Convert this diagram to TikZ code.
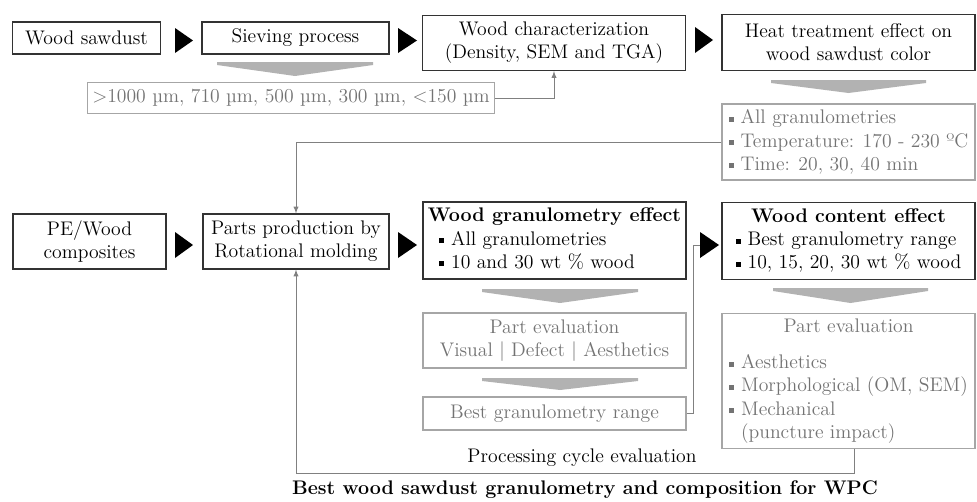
\documentclass[tikz,border=0pt]{standalone}
\usetikzlibrary{arrows}
\newcommand{\sqb}{\rule[1.5pt]{3.5pt}{3.5pt}\hspace{5pt}}

\begin{document}
\begin{tikzpicture}[x=0.025cm,y=-0.025cm,>=latex,font=\fontsize{14}{16.5}\selectfont]
  \tikzstyle{stepbox}=[rectangle,draw=black!80,line width=0.8pt,inner sep=2pt,align=center]
  \tikzstyle{greybox}=[rectangle,draw=black!35,line width=0.8pt,text=black!55,inner sep=2pt,align=center]
  \tikzstyle{gline}=[draw=black!50,line width=0.7pt]
  \tikzstyle{chev}=[fill=black!30]
  \tikzstyle{tri}=[fill=black]

  \useasboundingbox (0,0) rectangle (977,501);

  % first row
  \node [stepbox,minimum width=3.7cm,minimum height=0.8cm] (wsaw) at (86.5,38) {Wood sawdust};
  \node [stepbox,minimum width=4.675cm,minimum height=0.8cm] (sieve) at (295.5,38) {Sieving process};
  \node [stepbox,minimum width=6.575cm,minimum height=1.375cm] (wchar) at (554,43) {Wood characterization\\(Density, SEM and TGA)};
  \node [stepbox,minimum width=6.325cm,minimum height=1.4cm] (heat) at (848.5,42.5) {Heat treatment effect on\\wood sawdust color};

  \node [greybox,minimum width=10.175cm,minimum height=0.775cm] (sizes) at (291,98)
    {>1000 \textmu m, 710 \textmu m, 500 \textmu m, 300 \textmu m, <150 \textmu m};
  \node [greybox,minimum width=6.325cm,minimum height=1.9cm,align=left] (hcond) at (848.5,142)
    {\sqb All granulometries\\ \sqb Temperature: 170 - 230 ºC\\ \sqb Time: 20, 30, 40 min};

  % second row
  \node [stepbox,minimum width=3.825cm,minimum height=1.375cm] (pewood) at (89.5,241.5) {PE/Wood\\composites};
  \node [stepbox,minimum width=4.65cm,minimum height=1.375cm] (parts) at (296,241.5) {Parts production by\\Rotational molding};
  \node [stepbox,minimum width=6.575cm,minimum height=1.925cm] (gran) at (554.5,240.5)
    {\begin{tabular}{@{}l@{}}\multicolumn{1}{@{}c@{}}{\textbf{Wood granulometry effect}}\\ \hspace{8pt}\sqb All granulometries\\ \hspace{8pt}\sqb 10 and 30 wt \% wood\end{tabular}};
  \node [stepbox,minimum width=6.325cm,minimum height=1.925cm] (content) at (848.5,241)
    {\begin{tabular}{@{}l@{}}\multicolumn{1}{@{}c@{}}{\textbf{Wood content effect}}\\ \sqb Best granulometry range\\ \sqb 10, 15, 20, 30 wt \% wood\end{tabular}};

  \node [greybox,minimum width=6.575cm,minimum height=1.375cm] (evalL) at (554.5,340.5) {Part evaluation\\Visual | Defect | Aesthetics};
  \node [greybox,minimum width=6.575cm,minimum height=0.825cm] (best) at (554.5,413.5) {Best granulometry range};
  \node [greybox,minimum width=6.325cm,minimum height=3.3cm] (evalR) at (848.5,381)
    {\begin{tabular}{@{}l@{}}\multicolumn{1}{@{}c@{}}{Part evaluation}\\[9pt] \sqb Aesthetics\\ \sqb Morphological (OM, SEM)\\ \sqb Mechanical\\ \hspace{8.5pt}(puncture impact)\end{tabular}};

  \node (cyc) at (582,458) {Processing cycle evaluation};
  \node (final) at (585,490) {\textbf{Best wood sawdust granulometry and composition for WPC}};

  % black arrow heads
  \fill[tri] (175,28) -- (193,40.5) -- (175,53) -- cycle;
  \fill[tri] (398,28) -- (417,40.5) -- (398,53) -- cycle;
  \fill[tri] (695,27) -- (713,40) -- (695,53) -- cycle;
  \fill[tri] (175,232) -- (193,245) -- (175,258) -- cycle;
  \fill[tri] (398,232) -- (417,245) -- (398,258) -- cycle;
  \fill[tri] (700,232) -- (719,245) -- (700,258) -- cycle;
  \coordinate (g6) at (700,245);

  % grey down arrows
  \fill[chev] (217,62) -- (373,62) -- (373,65) -- (295,76) -- (217,65) -- cycle;
  \fill[chev] (771,80) -- (926,80) -- (926,83) -- (848.5,93) -- (771,83) -- cycle;
  \fill[chev] (482,289) -- (638,289) -- (638,292) -- (560,303) -- (482,292) -- cycle;
  \fill[chev] (773,288) -- (928,288) -- (928,291) -- (850.5,303) -- (773,291) -- cycle;
  \fill[chev] (482,378) -- (638,378) -- (638,381) -- (560,390) -- (482,381) -- cycle;

  % connectors
  \draw[gline,->] (sizes.east) -| (wchar.south);
  \draw[gline,->] (hcond.west) -| (parts.north);
  \draw[gline] (best.east) -- ++(7,0) |- (g6);
  \draw[gline,->] ([xshift=0.16cm]evalR.south) -- ++(0,25) -| (parts.south);
\end{tikzpicture}
\end{document}
